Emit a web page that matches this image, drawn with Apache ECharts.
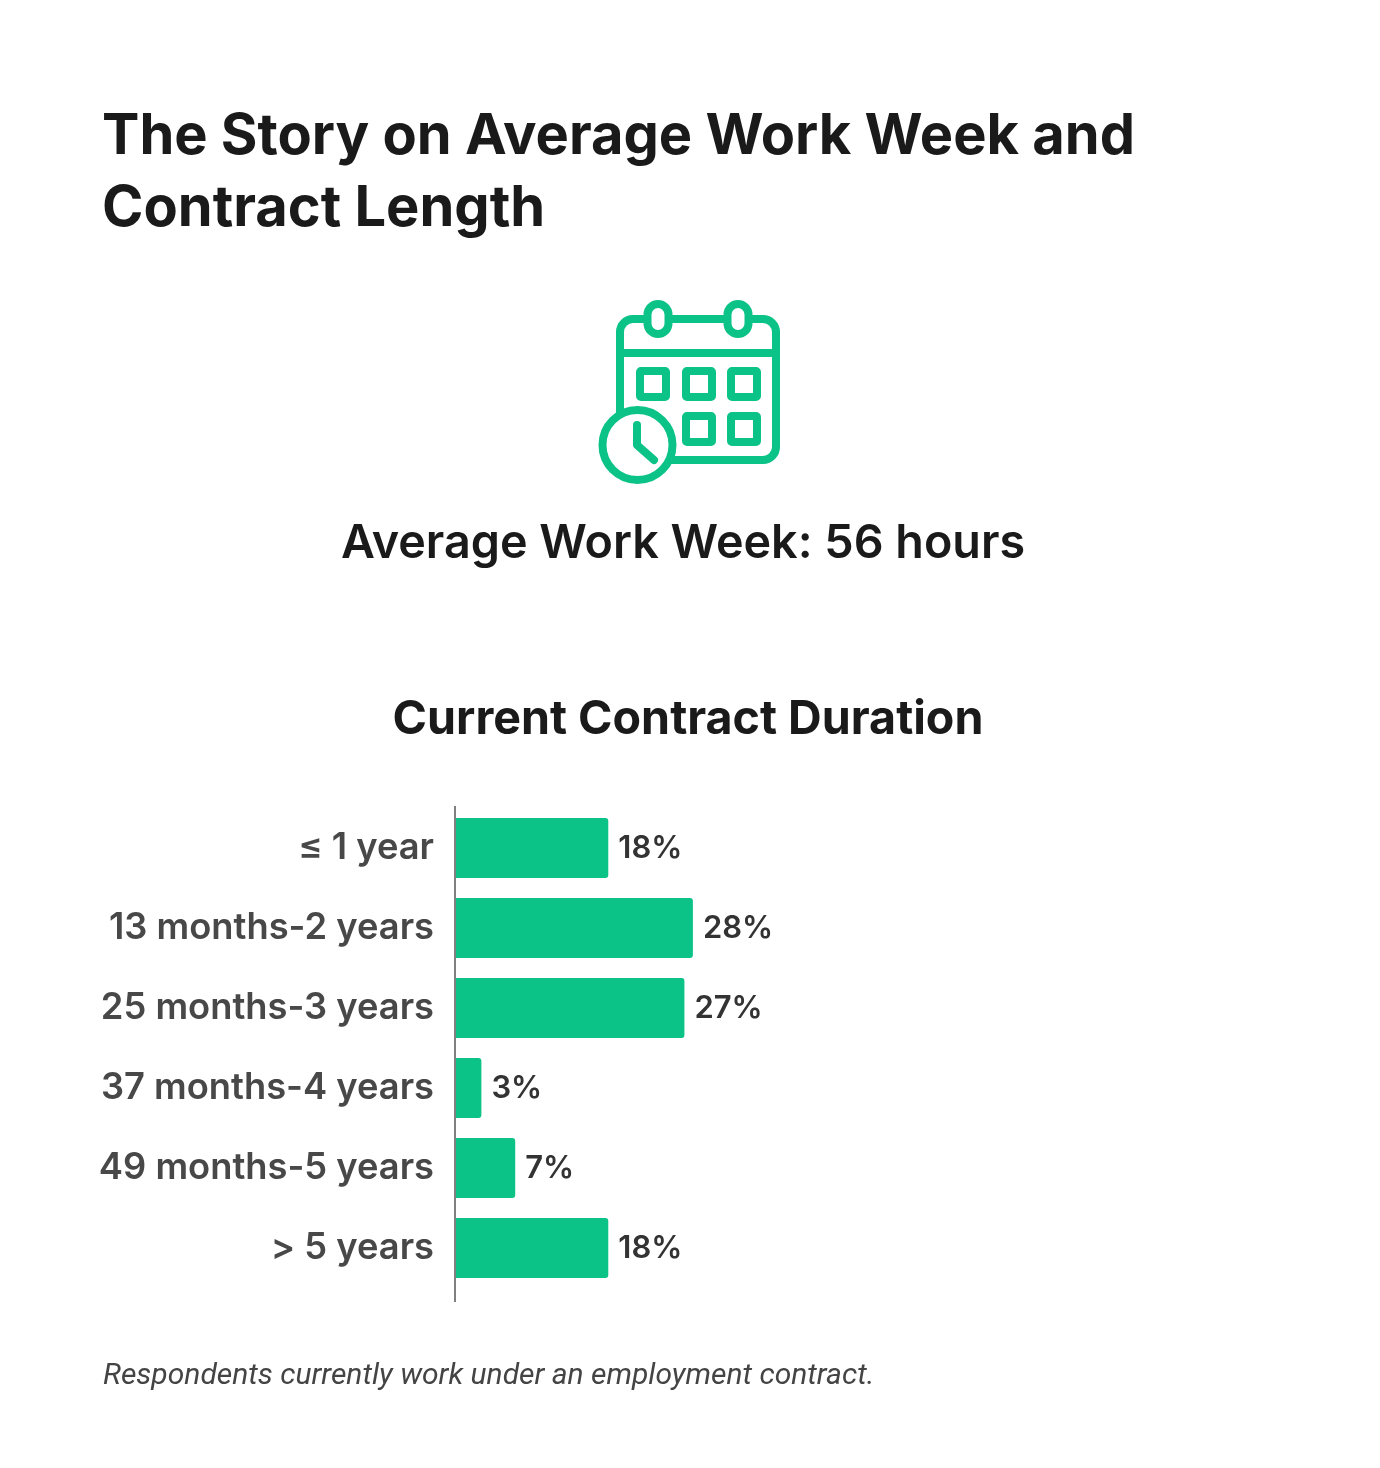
<!DOCTYPE html>
<html>
<head>
<meta charset="utf-8">
<style>html,body{margin:0;padding:0;background:#fff}#chart{width:1380px;height:1468px}</style>
<script src="https://cdn.jsdelivr.net/npm/echarts@6/dist/echarts.min.js"></script>
</head>
<body>
<div id="chart"></div>
<script>
// Contract duration survey results
const categories = ['≤ 1 year', '13 months-2 years', '25 months-3 years', '37 months-4 years', '49 months-5 years', '> 5 years'];
const shares = [18, 28, 27, 3, 7, 18];

const GREEN = '#0bc386';
const FONT = 'Inter';
const stroke = { stroke: GREEN, fill: '#fff', lineWidth: 8 };

const box = (cx, cy) => ({
  type: 'rect',
  shape: { x: cx - 13, y: cy - 13, width: 26, height: 26, r: 1 },
  style: stroke
});
const ring = (cx) => ({
  type: 'rect',
  shape: { x: cx - 10.5, y: 304, width: 21, height: 30, r: 10.5 },
  style: stroke
});

// Calendar with a clock badge, built from plain shapes
const icon = [
  { type: 'rect', shape: { x: 620, y: 319, width: 156, height: 141, r: 13 }, style: stroke },
  { type: 'line', shape: { x1: 620, y1: 353, x2: 776, y2: 353 }, style: { stroke: GREEN, lineWidth: 8 } },
  ring(658), ring(738),
  box(653, 384), box(699, 384), box(744, 384),
  box(699, 429), box(744, 429),
  { type: 'circle', shape: { cx: 637.5, cy: 445, r: 35 }, style: stroke },
  { type: 'polyline',
    shape: { points: [[637, 425], [637, 445], [654, 460]] },
    style: { stroke: GREEN, fill: null, lineWidth: 8, lineCap: 'round', lineJoin: 'round' } }
];

const text = (x, y, content, size, weight, color, align, family, style) => ({
  type: 'text', x, y,
  style: { text: content, fontSize: size, fontWeight: weight, fill: color, align: align,
           verticalAlign: 'middle', fontFamily: family || FONT, fontStyle: style || 'normal' }
});

const chart = echarts.init(document.getElementById('chart'), null, { renderer: 'canvas' });
chart.setOption({
  animation: false,
  backgroundColor: '#fff',
  grid: { left: 456, top: 808, width: 846, height: 480, containLabel: false },
  xAxis: { type: 'value', min: 0, max: 100, show: false },
  yAxis: {
    type: 'category', inverse: true, data: categories,
    axisLine: { show: false },
    axisTick: { show: false },
    axisLabel: { margin: 22, lineHeight: 46, fontSize: 36.3, fontWeight: 600, color: '#484848', fontFamily: FONT }
  },
  series: [{
    type: 'bar', data: shares, barWidth: 60,
    itemStyle: { color: GREEN, borderRadius: [0, 3, 3, 0] },
    label: {
      show: true, position: 'right', distance: 10, offset: [0, 1], formatter: '{c}%',
      fontSize: 31, fontWeight: 600, color: '#333', fontFamily: FONT
    }
  }],
  graphic: [
    text(102, 137, 'The Story on Average Work Week and', 56, 700, '#1a1a1a', 'left'),
    text(102, 209, 'Contract Length', 56, 700, '#1a1a1a', 'left'),
    ...icon,
    text(683, 544, 'Average Work Week: 56 hours', 46.7, 600, '#1a1a1a', 'center'),
    text(688, 720, 'Current Contract Duration', 46.6, 700, '#1a1a1a', 'center'),
    { type: 'line', shape: { x1: 455, y1: 806, x2: 455, y2: 1302 }, style: { stroke: '#808080', lineWidth: 2 }, z: 10 },
    text(103, 1376, 'Respondents currently work under an employment contract.', 30, 400, '#444', 'left', 'Roboto', 'italic')
  ]
});
</script>
</body>
</html>
